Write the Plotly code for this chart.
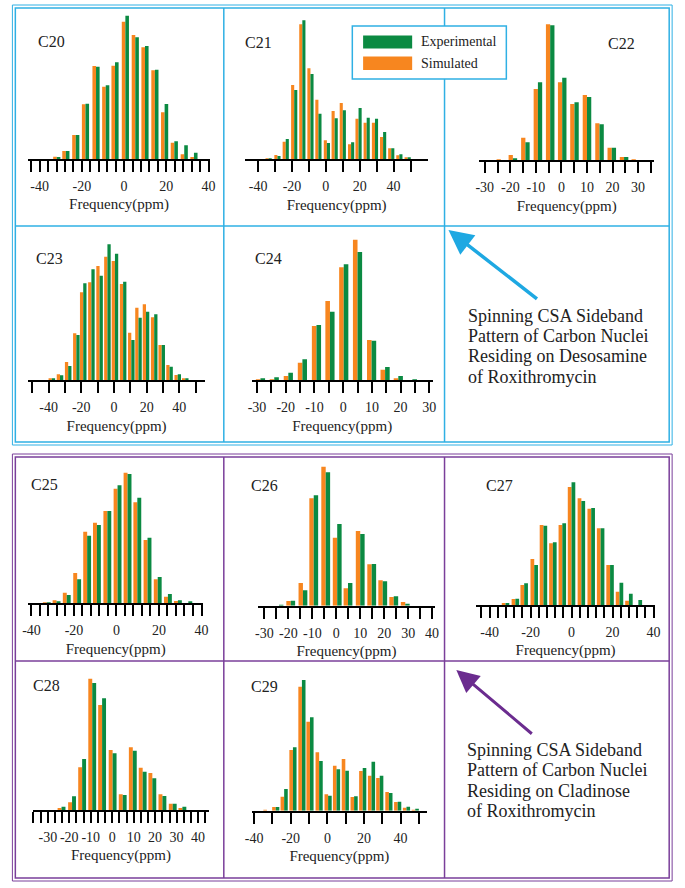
import plotly.graph_objects as go

W, H = 685, 888

# ---------------- data ----------------
panels = ["C20", "C21", "C22", "C23", "C24", "C25", "C26", "C27", "C28", "C29"]

x_c20 = [-31.9, -27.6, -22.9, -18.3, -13.3, -8.7, -4.3, 0.6, 5.3, 9.9, 14.6, 19.2, 23.8, 28.5, 33.1]
sim_c20 = [7, 24, 72, 164, 279, 217, 280, 412, 372, 335, 266, 140, 49, 14, 4]
exp_c20 = [6, 24, 72, 166, 277, 221, 290, 430, 365, 339, 268, 165, 53, 41, 19]

x_c21 = [-33.8, -28.6, -23.7, -18.7, -13.9, -9.1, -4.4, 0.6, 5.2, 10.0, 14.9, 19.3, 24.1, 29.0, 33.8, 38.6, 43.4, 48.3]
sim_c21 = [2, 13, 53, 223, 405, 273, 179, 57, 145, 169, 45, 122, 110, 110, 67, 33, 12, 5]
exp_c21 = [3, 10, 61, 208, 417, 256, 137, 49, 123, 147, 51, 154, 125, 122, 82, 33, 15, 6]

x_c22 = [-23.7, -19.0, -14.1, -9.2, -4.4, 0.3, 5.1, 10.0, 14.9, 19.7, 24.5, 29.1]
sim_c22 = [2, 16, 68, 214, 408, 234, 169, 196, 111, 38, 10, 1]
exp_c22 = [0, 6, 54, 234, 405, 248, 174, 190, 108, 38, 10, 0]

x_c23 = [-38.0, -33.0, -28.0, -23.0, -18.8, -13.8, -8.8, -4.0, 0.6, 5.6, 10.6, 15.0, 19.6, 24.6, 29.2, 34.0, 39.0, 43.6]
sim_c23 = [5, 18, 55, 141, 264, 294, 343, 371, 358, 289, 143, 218, 228, 189, 106, 46, 16, 5]
exp_c23 = [5, 15, 43, 136, 291, 333, 314, 408, 380, 296, 121, 188, 206, 198, 106, 41, 18, 6]

x_c24 = [-28.8, -24.0, -19.1, -14.2, -9.3, -4.6, 0.2, 5.0, 9.9, 14.6, 19.2, 24.1]
sim_c24 = [1, 3, 13, 53, 163, 238, 339, 422, 121, 32, 5, 0]
exp_c24 = [6, 9, 23, 63, 166, 206, 348, 385, 119, 40, 13, 1]

x_c25 = [-32.8, -28.2, -23.4, -18.5, -13.8, -9.2, -4.3, 0.5, 5.2, 9.8, 14.6, 19.4, 24.2, 28.9, 33.8]
sim_c25 = [1, 9, 32, 91, 215, 242, 277, 344, 392, 303, 190, 72, 20, 7, 0]
exp_c25 = [1, 5, 25, 72, 203, 235, 277, 354, 388, 317, 197, 79, 28, 9, 5]

x_c26 = [-23.9, -19.0, -13.9, -9.4, -4.4, 0.4, 4.9, 10.0, 14.8, 19.4, 24.0, 28.8]
sim_c26 = [0, 14, 68, 322, 417, 204, 52, 224, 124, 76, 26, 11]
exp_c26 = [1, 15, 46, 331, 400, 245, 68, 215, 125, 73, 28, 4]

x_c27 = [-32.2, -27.4, -23.1, -18.2, -13.7, -9.1, -4.5, 0.0, 4.8, 9.6, 14.2, 18.8, 23.4, 28.0, 32.6]
sim_c27 = [5, 18, 60, 138, 240, 185, 240, 354, 320, 289, 230, 120, 40, 13, 0]
exp_c27 = [6, 19, 65, 120, 238, 188, 245, 368, 312, 291, 230, 120, 67, 34, 15]

x_c28 = [-23.6, -18.7, -14.0, -9.3, -4.7, 0.2, 4.9, 9.6, 14.2, 18.7, 23.4, 28.2, 32.7]
sim_c28 = [6, 23, 128, 394, 315, 180, 47, 188, 127, 111, 47, 19, 5]
exp_c28 = [10, 41, 153, 381, 335, 170, 45, 178, 115, 95, 42, 19, 10]

x_c29 = [-33.0, -28.2, -23.6, -18.8, -13.9, -9.5, -4.5, 0.4, 5.0, 9.8, 14.6, 19.3, 24.1, 28.6, 33.6, 38.4, 43.2, 48.0]
sim_c29 = [2, 11, 42, 182, 372, 267, 175, 49, 135, 155, 41, 119, 105, 98, 56, 26, 9, 3]
exp_c29 = [0, 11, 65, 190, 392, 280, 149, 45, 124, 120, 43, 128, 147, 105, 53, 27, 12, 4]

# tick marks and labelled values per panel
ticks_c20 = [-44, -40, -36, -32, -28, -24, -20, -16, -12, -8, -4, 0, 4, 8, 12, 16, 20, 24, 28, 32, 36, 40]
ticks_c21 = [-40, -30, -20, -10, 0, 10, 20, 30, 40, 50]
ticks_c22 = [-30, -25, -20, -15, -10, -5, 0, 5, 10, 15, 20, 25, 30, 35]
ticks_c23 = [-50, -40, -30, -20, -10, 0, 10, 20, 30, 40, 50]
ticks_c24 = [-30, -25, -20, -15, -10, -5, 0, 5, 10, 15, 20, 25, 30]
ticks_c25 = [-40, -36, -32, -28, -24, -20, -16, -12, -8, -4, 0, 4, 8, 12, 16, 20, 24, 28, 32, 36, 40]
ticks_c26 = [-30, -25, -20, -15, -10, -5, 0, 5, 10, 15, 20, 25, 30, 35, 40]
ticks_c27 = [-44, -40, -36, -32, -28, -24, -20, -16, -12, -8, -4, 0, 4, 8, 12, 16, 20, 24, 28, 32, 36, 40]
ticks_c28 = [-36.7, -33.3, -30, -26.7, -23.3, -20, -16.7, -13.3, -10, -6.7, -3.3, 0, 3.3, 6.7, 10,
             13.3, 16.7, 20, 23.3, 26.7, 30, 33.3, 36.7, 40, 43.3]
ticks_c29 = [-40, -30, -20, -10, 0, 10, 20, 30, 40, 50]

labels_20 = [-40, -20, 0, 20, 40]
labels_10 = [-30, -20, -10, 0, 10, 20, 30]
labels_10b = [-30, -20, -10, 0, 10, 20, 30, 40]

legend_names = ["Experimental", "Simulated"]
x_title = "Frequency(ppm)"
note_desosamine = ["Spinning CSA Sideband", "Pattern of Carbon Nuclei",
                   "Residing on Desosamine", "of Roxithromycin"]
note_cladinose = ["Spinning CSA Sideband", "Pattern of Carbon Nuclei",
                  "Residing on Cladinose", "of Roxithromycin"]

series = {
    "C20": (x_c20, exp_c20, sim_c20, ticks_c20, labels_20),
    "C21": (x_c21, exp_c21, sim_c21, ticks_c21, labels_20),
    "C22": (x_c22, exp_c22, sim_c22, ticks_c22, labels_10),
    "C23": (x_c23, exp_c23, sim_c23, ticks_c23, labels_20),
    "C24": (x_c24, exp_c24, sim_c24, ticks_c24, labels_10),
    "C25": (x_c25, exp_c25, sim_c25, ticks_c25, labels_20),
    "C26": (x_c26, exp_c26, sim_c26, ticks_c26, labels_10b),
    "C27": (x_c27, exp_c27, sim_c27, ticks_c27, labels_20),
    "C28": (x_c28, exp_c28, sim_c28, ticks_c28, labels_10b),
    "C29": (x_c29, exp_c29, sim_c29, ticks_c29, labels_20),
}

# ---------------- layout geometry (pixels) ----------------
# L, R: axis line ends; B: baseline; xr: axis range; lab: panel label centre; bw: bar width
geom = {
    "C20": dict(L=21.7, R=206.7, B=159.0, xr=(-45.4, 40.6), lab=(45, 41), bw=1.7),
    "C21": dict(L=242.7, R=429.3, B=159.3, xr=(-47.7, 60.4), lab=(256.7, 42.3), bw=1.83),
    "C22": dict(L=481.0, R=660.0, B=160.3, xr=(-32.3, 36.4), lab=(626.7, 43.3), bw=1.67),
    "C23": dict(L=21.7, R=201.7, B=380.3, xr=(-52.4, 55.6), lab=(43.3, 258.3), bw=2.0),
    "C24": dict(L=249.3, R=434.0, B=380.3, xr=(-31.9, 31.2), lab=(266.7, 258.3), bw=1.6),
    "C25": dict(L=21.7, R=200.0, B=603.3, xr=(-41.5, 40.8), lab=(38.3, 484.3), bw=1.85),
    "C26": dict(L=256.0, R=436.0, B=605.7, xr=(-32.6, 41.1), lab=(262.7, 485.7), bw=1.84),
    "C27": dict(L=478.3, R=660.5, B=605.0, xr=(-46.5, 40.7), lab=(501.7, 485.7), bw=1.83),
    "C28": dict(L=26.7, R=205.7, B=810.0, xr=(-36.8, 45.0), lab=(40, 685), bw=1.83),
    "C29": dict(L=249.3, R=428.3, B=810.7, xr=(-41.4, 54.5), lab=(262.7, 686.7), bw=1.96),
}

GREEN = "#0b8a42"
ORANGE = "#f7861f"
BLUE = "#2fb0e4"
PURPLE = "#7a3f9a"
FONT = "Liberation Serif"


def fx(x):
    return x / W


def fy(y):
    return 1 - y / H


fig = go.Figure()
layout = dict(
    width=W, height=H, margin=dict(l=0, r=0, t=0, b=0),
    paper_bgcolor="white", plot_bgcolor="rgba(0,0,0,0)",
    barmode="overlay", showlegend=False,
    font=dict(family=FONT, color="#222"),
)
annotations = []
shapes = []

for i, name in enumerate(panels, start=1):
    xs, ex, sm, tk, lb = series[name]
    g = geom[name]
    xa = "x" if i == 1 else f"x{i}"
    ya = "y" if i == 1 else f"y{i}"
    fig.add_trace(go.Bar(x=xs, y=sm, name=legend_names[1], marker_color=ORANGE,
                         width=g["bw"], offset=-g["bw"], xaxis=xa, yaxis=ya,
                         marker_line_width=0))
    fig.add_trace(go.Bar(x=xs, y=ex, name=legend_names[0], marker_color=GREEN,
                         width=g["bw"], offset=0, xaxis=xa, yaxis=ya,
                         marker_line_width=0))
    ttext = [str(int(v)) if (float(v).is_integer() and int(v) in lb) else "" for v in tk]
    layout["xaxis" if i == 1 else f"xaxis{i}"] = dict(
        domain=[fx(g["L"]), fx(g["R"])], range=list(g["xr"]), anchor=ya,
        showline=True, linecolor="black", linewidth=2,
        ticks="outside", ticklen=11, tickwidth=2, tickcolor="black",
        tickmode="array", tickvals=tk, ticktext=ttext,
        tickfont=dict(family=FONT, size=14, color="#222"),
        ticklabelstandoff=2,
        showgrid=False, zeroline=False, fixedrange=True,
        title=dict(text=x_title, font=dict(family=FONT, size=15, color="#222"), standoff=6),
    )
    layout["yaxis" if i == 1 else f"yaxis{i}"] = dict(
        domain=[fy(g["B"]), fy(g["B"] - 150)], range=[0, 450], anchor=xa,
        visible=False, fixedrange=True,
    )
    annotations.append(dict(text=name, x=fx(g["lab"][0]), y=fy(g["lab"][1]),
                            xref="paper", yref="paper", showarrow=False,
                            xanchor="center", yanchor="middle",
                            font=dict(family=FONT, size=16, color="#222")))


def line(x0, y0, x1, y1, color, width=1.5):
    shapes.append(dict(type="line", xref="paper", yref="paper",
                       x0=fx(x0), y0=fy(y0), x1=fx(x1), y1=fy(y1),
                       line=dict(color=color, width=width)))


def rect(x0, y0, x1, y1, color, width=1.5):
    shapes.append(dict(type="rect", xref="paper", yref="paper",
                       x0=fx(x0), y0=fy(y0), x1=fx(x1), y1=fy(y1),
                       line=dict(color=color, width=width)))


# blue frame (double outer border)
rect(5.5, 5, 678, 445, BLUE, 1)
rect(8.5, 8, 675, 442, BLUE, 1.5)
line(221, 8, 221, 442, BLUE)
line(446, 8, 446, 442, BLUE)
line(8.5, 226, 675, 226, BLUE)

# purple frame
rect(5.5, 454, 678, 881, PURPLE, 1)
rect(8.5, 457, 675, 878, PURPLE, 1.5)
line(221, 457, 221, 878, PURPLE)
line(446, 457, 446, 878, PURPLE)
line(8.5, 661, 675, 661, PURPLE)

# legend box
shapes.append(dict(type="rect", xref="paper", yref="paper",
                   x0=fx(352), y0=fy(79), x1=fx(509), y1=fy(26),
                   line=dict(color=BLUE, width=1.5), fillcolor="white"))
shapes.append(dict(type="rect", xref="paper", yref="paper",
                   x0=fx(363), y0=fy(48.5), x1=fx(413), y1=fy(35.5),
                   line=dict(width=0), fillcolor=GREEN))
shapes.append(dict(type="rect", xref="paper", yref="paper",
                   x0=fx(363), y0=fy(70), x1=fx(413), y1=fy(56.5),
                   line=dict(width=0), fillcolor=ORANGE))
for txt, yy in ((legend_names[0], 42), (legend_names[1], 63.5)):
    annotations.append(dict(text=txt, x=fx(420), y=fy(yy), xref="paper", yref="paper",
                            showarrow=False, xanchor="left", yanchor="middle",
                            font=dict(family=FONT, size=14, color="#222")))

# arrows
annotations.append(dict(text="", x=fx(450), y=fy(230), xref="paper", yref="paper",
                        showarrow=True, ax=90, ay=70, axref="pixel", ayref="pixel",
                        arrowhead=2, arrowsize=1.4, arrowwidth=3.5, arrowcolor="#1ea8e2"))
annotations.append(dict(text="", x=fx(458), y=fy(670), xref="paper", yref="paper",
                        showarrow=True, ax=77, ay=65, axref="pixel", ayref="pixel",
                        arrowhead=2, arrowsize=1.5, arrowwidth=3, arrowcolor="#6b2c8f"))

# descriptive notes
for k, txt in enumerate(note_desosamine):
    annotations.append(dict(text=txt, x=fx(468), y=fy(315.7 + 20.3 * k), xref="paper",
                            yref="paper", showarrow=False, xanchor="left", yanchor="middle",
                            font=dict(family=FONT, size=18, color="#222")))
for k, txt in enumerate(note_cladinose):
    annotations.append(dict(text=txt, x=fx(466.7), y=fy(750 + 20.3 * k), xref="paper",
                            yref="paper", showarrow=False, xanchor="left", yanchor="middle",
                            font=dict(family=FONT, size=18, color="#222")))

layout["annotations"] = annotations
layout["shapes"] = shapes
fig.update_layout(**layout)
fig.write_html(
    "out.html",
    config={"displayModeBar": False, "responsive": False},
    post_script=("document.documentElement.style.overflow='hidden';"
                 "document.body.style.margin='0';"
                 "document.body.style.padding='0';"
                 "document.body.style.overflow='hidden';"),
)
